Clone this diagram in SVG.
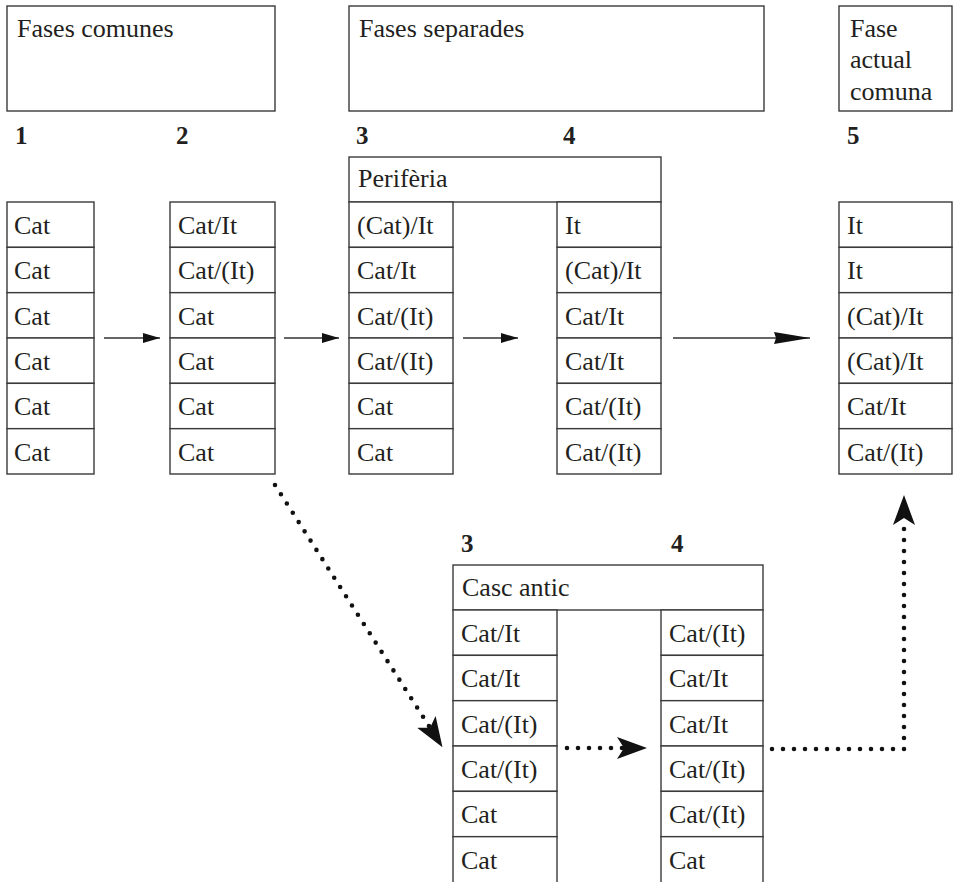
<svg xmlns="http://www.w3.org/2000/svg" width="953" height="882" viewBox="0 0 953 882">
<style>
  .box { fill: #fff; stroke: #3a3a3a; stroke-width: 1.4; }
  .t { font-family: "Liberation Serif", "DejaVu Serif", "Times New Roman", serif; font-size: 26px; fill: #231f20; }
  .n { font-family: "Liberation Serif", "DejaVu Serif", "Times New Roman", serif; font-size: 25px; font-weight: bold; fill: #231f20; }
  .ln { fill: none; stroke: #333; stroke-width: 1.3; }
  .dot { fill: none; stroke: #111; stroke-width: 4.6; stroke-linecap: round; stroke-dasharray: 0 11; }
</style>
<defs>
  <marker id="aSmall" markerUnits="userSpaceOnUse" viewBox="0 -6 17 12" refX="17" refY="0" markerWidth="17" markerHeight="12" orient="auto">
    <path d="M0,-5 L17,0 L0,5 Z" fill="#111"/>
  </marker>
  <marker id="aLong" markerUnits="userSpaceOnUse" viewBox="0 -7 36 14" refX="36" refY="0" markerWidth="36" markerHeight="14" orient="auto">
    <path d="M0,-6 L36,0 L0,6 L2,0 Z" fill="#111"/>
  </marker>
  <marker id="aStealth" markerUnits="userSpaceOnUse" viewBox="0 -12 30 24" refX="7" refY="0" markerWidth="30" markerHeight="24" orient="auto">
    <path d="M0,-11 L30,0 L0,11 L7,0 Z" fill="#111"/>
  </marker>
</defs>

<g id="header-fases-comunes">
  <rect class="box" x="7" y="6" width="268" height="105"/>
  <text class="t" x="17" y="37">Fases comunes</text>
</g>
<g id="header-fases-separades">
  <rect class="box" x="349" y="6" width="415" height="105"/>
  <text class="t" x="359" y="37">Fases separades</text>
</g>
<g id="header-fase-actual">
  <rect class="box" x="839" y="6" width="113" height="105"/>
  <text class="t" x="850" y="37">Fase</text>
  <text class="t" x="850" y="68">actual</text>
  <text class="t" x="850" y="100">comuna</text>
</g>

<g id="numbers">
  <text class="n" x="15" y="144">1</text>
  <text class="n" x="176" y="144">2</text>
  <text class="n" x="356" y="144">3</text>
  <text class="n" x="563" y="144">4</text>
  <text class="n" x="847" y="144">5</text>
  <text class="n" x="461" y="552">3</text>
  <text class="n" x="671" y="552">4</text>
</g>

<g id="col1">
  <rect class="box" x="7" y="202" width="87" height="45.33"/>
  <rect class="box" x="7" y="247.33" width="87" height="45.33"/>
  <rect class="box" x="7" y="292.67" width="87" height="45.33"/>
  <rect class="box" x="7" y="338" width="87" height="45.33"/>
  <rect class="box" x="7" y="383.33" width="87" height="45.33"/>
  <rect class="box" x="7" y="428.67" width="87" height="45.33"/>
  <text class="t" x="14" y="234">Cat</text>
  <text class="t" x="14" y="279.3">Cat</text>
  <text class="t" x="14" y="324.7">Cat</text>
  <text class="t" x="14" y="370">Cat</text>
  <text class="t" x="14" y="415.3">Cat</text>
  <text class="t" x="14" y="460.7">Cat</text>
</g>

<g id="col2">
  <rect class="box" x="170" y="202" width="105" height="45.33"/>
  <rect class="box" x="170" y="247.33" width="105" height="45.33"/>
  <rect class="box" x="170" y="292.67" width="105" height="45.33"/>
  <rect class="box" x="170" y="338" width="105" height="45.33"/>
  <rect class="box" x="170" y="383.33" width="105" height="45.33"/>
  <rect class="box" x="170" y="428.67" width="105" height="45.33"/>
  <text class="t" x="178" y="234">Cat/It</text>
  <text class="t" x="178" y="279.3">Cat/(It)</text>
  <text class="t" x="178" y="324.7">Cat</text>
  <text class="t" x="178" y="370">Cat</text>
  <text class="t" x="178" y="415.3">Cat</text>
  <text class="t" x="178" y="460.7">Cat</text>
</g>

<g id="periferia">
  <rect class="box" x="349" y="157" width="312" height="45"/>
  <text class="t" x="358" y="187">Perifèria</text>
</g>

<g id="col3-periferia">
  <rect class="box" x="349" y="202" width="104" height="45.33"/>
  <rect class="box" x="349" y="247.33" width="104" height="45.33"/>
  <rect class="box" x="349" y="292.67" width="104" height="45.33"/>
  <rect class="box" x="349" y="338" width="104" height="45.33"/>
  <rect class="box" x="349" y="383.33" width="104" height="45.33"/>
  <rect class="box" x="349" y="428.67" width="104" height="45.33"/>
  <text class="t" x="357" y="234">(Cat)/It</text>
  <text class="t" x="357" y="279.3">Cat/It</text>
  <text class="t" x="357" y="324.7">Cat/(It)</text>
  <text class="t" x="357" y="370">Cat/(It)</text>
  <text class="t" x="357" y="415.3">Cat</text>
  <text class="t" x="357" y="460.7">Cat</text>
</g>

<g id="col4-periferia">
  <rect class="box" x="557" y="202" width="104" height="45.33"/>
  <rect class="box" x="557" y="247.33" width="104" height="45.33"/>
  <rect class="box" x="557" y="292.67" width="104" height="45.33"/>
  <rect class="box" x="557" y="338" width="104" height="45.33"/>
  <rect class="box" x="557" y="383.33" width="104" height="45.33"/>
  <rect class="box" x="557" y="428.67" width="104" height="45.33"/>
  <text class="t" x="565" y="234">It</text>
  <text class="t" x="565" y="279.3">(Cat)/It</text>
  <text class="t" x="565" y="324.7">Cat/It</text>
  <text class="t" x="565" y="370">Cat/It</text>
  <text class="t" x="565" y="415.3">Cat/(It)</text>
  <text class="t" x="565" y="460.7">Cat/(It)</text>
</g>

<g id="col5">
  <rect class="box" x="839" y="202" width="113" height="45.33"/>
  <rect class="box" x="839" y="247.33" width="113" height="45.33"/>
  <rect class="box" x="839" y="292.67" width="113" height="45.33"/>
  <rect class="box" x="839" y="338" width="113" height="45.33"/>
  <rect class="box" x="839" y="383.33" width="113" height="45.33"/>
  <rect class="box" x="839" y="428.67" width="113" height="45.33"/>
  <text class="t" x="847" y="234">It</text>
  <text class="t" x="847" y="279.3">It</text>
  <text class="t" x="847" y="324.7">(Cat)/It</text>
  <text class="t" x="847" y="370">(Cat)/It</text>
  <text class="t" x="847" y="415.3">Cat/It</text>
  <text class="t" x="847" y="460.7">Cat/(It)</text>
</g>

<g id="casc-antic">
  <rect class="box" x="453" y="565" width="310" height="45"/>
  <text class="t" x="462" y="596">Casc antic</text>
</g>

<g id="col3-casc">
  <rect class="box" x="453" y="610" width="104" height="45.33"/>
  <rect class="box" x="453" y="655.33" width="104" height="45.33"/>
  <rect class="box" x="453" y="700.67" width="104" height="45.33"/>
  <rect class="box" x="453" y="746" width="104" height="45.33"/>
  <rect class="box" x="453" y="791.33" width="104" height="45.33"/>
  <rect class="box" x="453" y="836.67" width="104" height="47"/>
  <text class="t" x="461" y="642">Cat/It</text>
  <text class="t" x="461" y="687.3">Cat/It</text>
  <text class="t" x="461" y="732.7">Cat/(It)</text>
  <text class="t" x="461" y="778">Cat/(It)</text>
  <text class="t" x="461" y="823.3">Cat</text>
  <text class="t" x="461" y="868.7">Cat</text>
</g>

<g id="col4-casc">
  <rect class="box" x="661" y="610" width="102" height="45.33"/>
  <rect class="box" x="661" y="655.33" width="102" height="45.33"/>
  <rect class="box" x="661" y="700.67" width="102" height="45.33"/>
  <rect class="box" x="661" y="746" width="102" height="45.33"/>
  <rect class="box" x="661" y="791.33" width="102" height="45.33"/>
  <rect class="box" x="661" y="836.67" width="102" height="47"/>
  <text class="t" x="669" y="642">Cat/(It)</text>
  <text class="t" x="669" y="687.3">Cat/It</text>
  <text class="t" x="669" y="732.7">Cat/It</text>
  <text class="t" x="669" y="778">Cat/(It)</text>
  <text class="t" x="669" y="823.3">Cat/(It)</text>
  <text class="t" x="669" y="868.7">Cat</text>
</g>

<g id="connectors">
  <line class="ln" x1="104" y1="338" x2="160" y2="338" marker-end="url(#aSmall)"/>
  <line class="ln" x1="284" y1="338" x2="339" y2="338" marker-end="url(#aSmall)"/>
  <line class="ln" x1="463" y1="338" x2="518" y2="338" marker-end="url(#aSmall)"/>
  <line class="ln" x1="673" y1="338" x2="810" y2="338" marker-end="url(#aLong)"/>
  <path class="dot" d="M275,485 L430.1,727.8" marker-end="url(#aStealth)"/>
  <path class="dot" d="M567,748 L624,748" marker-end="url(#aStealth)"/>
  <path class="dot" d="M772,749 L904,749 L904,518" marker-end="url(#aStealth)"/>
</g>
</svg>
